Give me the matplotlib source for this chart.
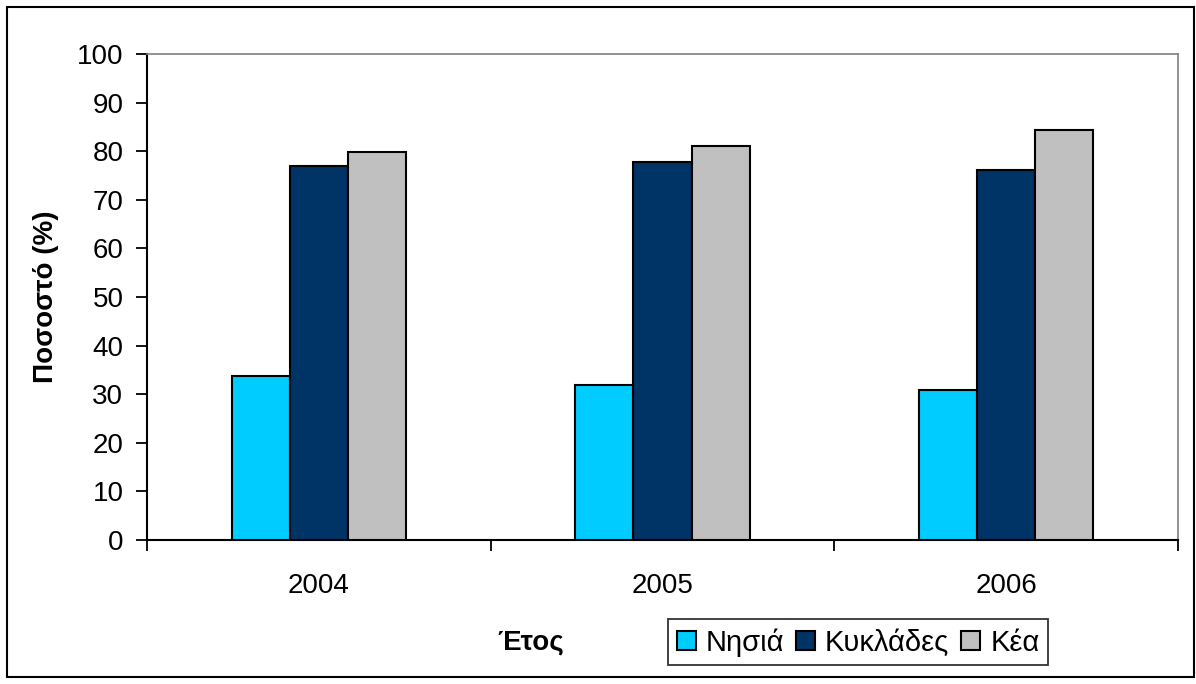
import matplotlib
matplotlib.use("Agg")
import matplotlib.pyplot as plt
from matplotlib.patches import Rectangle
import numpy as np

plt.rcParams["font.family"] = ["Liberation Sans", "DejaVu Sans"]

years = ["2004", "2005", "2006"]
series_names = ["Νησιά", "Κυκλάδες", "Κέα"]
nisia = [33.7, 32.0, 30.9]
kyklades = [77.0, 77.8, 76.1]
kea = [79.8, 81.1, 84.3]
colors = ["#00CCFF", "#003366", "#C0C0C0"]

fig = plt.figure(figsize=(11.96, 6.84), dpi=100)
ax = fig.add_axes([0.1229, 0.2105, 0.8621, 0.7105])

x = np.arange(len(years))
width = 0.169
for i, (name, vals) in enumerate(zip(series_names, [nisia, kyklades, kea])):
    ax.bar(x + (i - 1) * width, vals, width, color=colors[i],
           edgecolor="black", linewidth=1.5, label=name, zorder=3)

ax.set_xlim(-0.5, len(years) - 0.5)
ax.set_ylim(0, 100)
ax.set_yticks(np.arange(0, 101, 10))

# category boundaries as major ticks, year labels on minor ticks
ax.set_xticks(np.arange(-0.5, len(years), 1.0))
ax.set_xticklabels([])
ax.set_xticks(x, minor=True)
ax.set_xticklabels(years, minor=True)
ax.tick_params(axis="x", which="major", length=8, width=1.3, direction="out")
ax.tick_params(axis="x", which="minor", length=0, pad=24, labelsize=20)
ax.tick_params(axis="y", length=8, width=1.3, direction="out", pad=9, labelsize=20)

for side in ["left", "bottom"]:
    ax.spines[side].set_linewidth(1.5)
    ax.spines[side].set_color("black")
for side in ["top", "right"]:
    ax.spines[side].set_linewidth(1.2)
    ax.spines[side].set_color("#808080")

ax.set_ylabel("Ποσοστό (%)", fontsize=20, fontweight="bold", labelpad=13)
fig.text(0.444, 0.06, "Έτος", fontsize=20, fontweight="bold",
         ha="center", va="center")

leg = fig.legend(loc="center", bbox_to_anchor=(0.7174, 0.0607), ncol=3,
                 fontsize=21, frameon=True, fancybox=False, shadow=False,
                 handlelength=0.65, handleheight=0.65, handletextpad=0.35,
                 columnspacing=0.4, borderpad=0.3, borderaxespad=0)
leg.get_frame().set_edgecolor("black")
leg.get_frame().set_linewidth(1.3)

# outer chart frame
fig.patches.append(Rectangle((0.006, 0.01), 0.992, 0.98, transform=fig.transFigure,
                             fill=False, edgecolor="black", linewidth=1.5))

fig.savefig("out.png", dpi=100)
